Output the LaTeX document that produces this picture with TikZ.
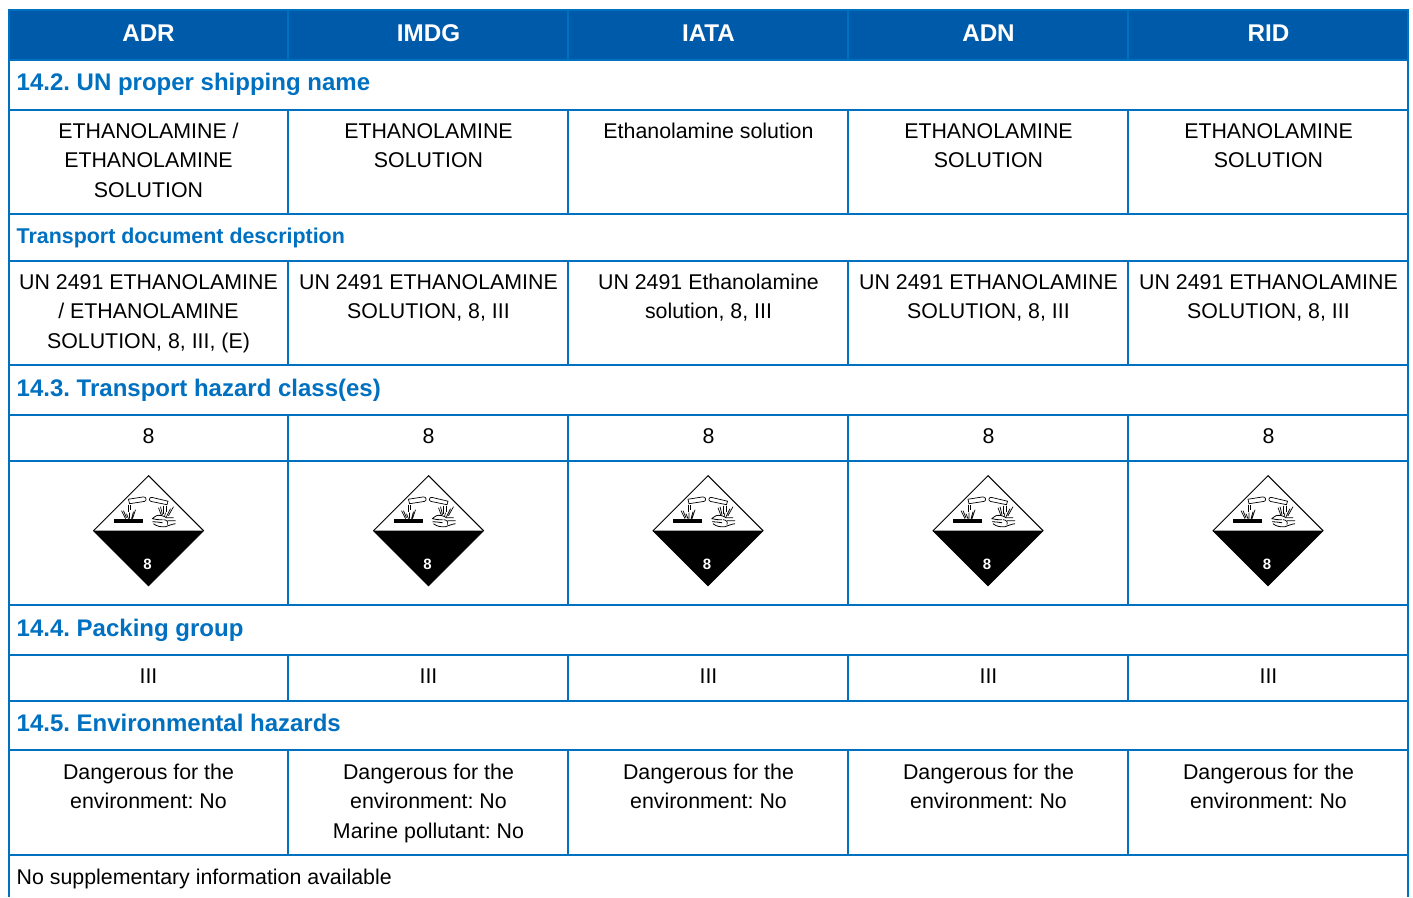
\documentclass[tikz,border=0pt]{standalone}
\usepackage{fontspec}
\setmainfont{Liberation Sans}
\frenchspacing
\definecolor{rulec}{RGB}{0,112,192}
\definecolor{headc}{RGB}{0,90,170}
\tikzset{
  x=1pt,y=-1pt,
  rulel/.style={draw=rulec,line width=2pt},
  headtxt/.style={text=white,font=\fontsize{24.2}{28}\selectfont\bfseries,inner sep=0pt,anchor=base},
  sect/.style={text=rulec,font=\fontsize{24}{28}\selectfont\bfseries,inner sep=0pt,anchor=base west},
  subsect/.style={text=rulec,font=\fontsize{21.4}{28}\selectfont\bfseries,inner sep=0pt,anchor=base west},
  body/.style={text=black,font=\fontsize{21.35}{29.6}\selectfont,inner sep=0pt,anchor=north,align=center},
  bodyl/.style={text=black,font=\fontsize{21.35}{29.6}\selectfont,inner sep=0pt,anchor=base west},
  hazard/.pic={
    \fill[white] (0,-55) -- (55,0) -- (0,55) -- (-55,0) -- cycle;
    \fill[black] (-55,0) -- (55,0) -- (0,55) -- cycle;
    \draw[black,line width=1pt,line join=miter] (0,-55) -- (55,0) -- (0,55) -- (-55,0) -- cycle;
    \fill[black] (-35,-11.7) rectangle (-6,-7.5);
    \draw[black,line width=.7pt] (-20,-31.5) -- (-5,-33.8) .. controls (-2,-34) and (-1.5,-29.8) .. (-4,-29.3) -- (-19,-27) -- cycle;
    \draw[black,line width=.6pt] (-20,-26) -- (-20,-19) (-18,-26) -- (-18,-21);
    \draw[black,line width=.7pt] (-27,-20) -- (-23,-12) (-25,-20) -- (-22,-13) (-19,-18) -- (-19,-12) (-13,-21) -- (-16,-12) (-15,-19) -- (-17,-12) (-22,-17) -- (-20,-12);
    \draw[black,line width=.7pt] (19.5,-29.5) -- (3.5,-33.3) .. controls (.5,-33.8) and (0,-29.8) .. (2.5,-29.3) -- (18.5,-26) -- cycle;
    \draw[black,line width=.6pt] (15,-25) -- (15,-17) (18,-25) -- (18,-19);
    \draw[black,line width=.7pt] (10,-23) -- (13,-15) (12,-24) -- (14,-16) (17,-18) -- (16,-14) (25,-24) -- (20,-15) (22,-22) -- (18,-14);
    \draw[black,line width=.8pt] (8,-15) .. controls (11,-16) and (15,-15) .. (18,-13) -- (25,-13)
      (8,-15) .. controls (6,-14) and (5,-13) .. (4,-12) .. controls (7,-11) and (10,-11) .. (14,-11)
      (4,-9) .. controls (7,-9) and (10,-8.5) .. (14,-8)
      (5,-7) .. controls (8,-4.5) and (12,-3.5) .. (17,-4) .. controls (20,-5) and (23,-6.5) .. (27,-7);
    \draw[black,line width=.7pt] (19,-10) -- (27,-10) (15,-11) .. controls (18,-11) and (20,-9) .. (19,-6);
    \node[text=white,inner sep=0pt,anchor=base,font=\fontsize{15}{18}\selectfont\bfseries] at (-1,39) {8};
  }
}
\newcommand{\rowhead}[3]{% name, baseline, text
  \node[sect] (#1) at (16.5,#2) {#3};}
\begin{document}
\begin{tikzpicture}
\useasboundingbox (0,0) rectangle (1413,897);
\fill[white] (0,0) rectangle (1413,897);
% header band
\fill[headc] (9,9) rectangle (1408,60);
% grid
\foreach \yy in {60,110,214,261,365,415,461,605,655,701,750,855}
  \draw[rulel] (8,\yy) -- (1409,\yy);
\draw[rulel] (8,10) -- (1409,10);
\draw[rulel] (9,9) -- (9,897);
\draw[rulel] (1408,9) -- (1408,897);
\foreach \xx in {288,568,848,1128}{
  \draw[rulel] (\xx,9) -- (\xx,60);
  \draw[rulel] (\xx,110) -- (\xx,214);
  \draw[rulel] (\xx,261) -- (\xx,365);
  \draw[rulel] (\xx,415) -- (\xx,605);
  \draw[rulel] (\xx,655) -- (\xx,701);
  \draw[rulel] (\xx,750) -- (\xx,855);
}
% header
\node[headtxt] (hadr) at (148.5,41) {ADR};
\node[headtxt] (himdg) at (428.5,41) {IMDG};
\node[headtxt] (hiata) at (708.5,41) {IATA};
\node[headtxt] (hadn) at (988.5,41) {ADN};
\node[headtxt] (hrid) at (1268.5,41) {RID};
% 14.2
\rowhead{s142}{90.5}{14.2. UN proper shipping name}
\node[body] (a1) at (148.5,117.3) {\strut ETHANOLAMINE /\\ETHANOLAMINE\\SOLUTION};
\node[body] (a2) at (428.5,117.3) {\strut ETHANOLAMINE\\SOLUTION};
\node[body] (a3) at (708.5,117.3) {\strut Ethanolamine solution};
\node[body] (a4) at (988.5,117.3) {\strut ETHANOLAMINE\\SOLUTION};
\node[body] (a5) at (1268.5,117.3) {\strut ETHANOLAMINE\\SOLUTION};
% transport doc
\node[subsect] (std) at (16.5,243) {Transport document description};
\node[body] (b1) at (148.5,268.3) {\strut UN 2491 ETHANOLAMINE\\/ ETHANOLAMINE\\SOLUTION, 8, III, (E)};
\node[body] (b2) at (428.5,268.3) {\strut UN 2491 ETHANOLAMINE\\SOLUTION, 8, III};
\node[body] (b3) at (708.5,268.3) {\strut UN 2491 Ethanolamine\\solution, 8, III};
\node[body] (b4) at (988.5,268.3) {\strut UN 2491 ETHANOLAMINE\\SOLUTION, 8, III};
\node[body] (b5) at (1268.5,268.3) {\strut UN 2491 ETHANOLAMINE\\SOLUTION, 8, III};
% 14.3
\rowhead{s143}{396}{14.3. Transport hazard class(es)}
\node[body] (c1) at (148.5,422.3) {\strut 8};
\node[body] (c2) at (428.5,422.3) {\strut 8};
\node[body] (c3) at (708.5,422.3) {\strut 8};
\node[body] (c4) at (988.5,422.3) {\strut 8};
\node[body] (c5) at (1268.5,422.3) {\strut 8};
\pic at (148.5,530.7) {hazard};
\pic at (428.5,530.7) {hazard};
\pic at (708,530.7) {hazard};
\pic at (988,530.7) {hazard};
\pic at (1268,530.7) {hazard};
% 14.4
\rowhead{s144}{636}{14.4. Packing group}
\node[body] (d1) at (148.5,662.3) {\strut III};
\node[body] (d2) at (428.5,662.3) {\strut III};
\node[body] (d3) at (708.5,662.3) {\strut III};
\node[body] (d4) at (988.5,662.3) {\strut III};
\node[body] (d5) at (1268.5,662.3) {\strut III};
% 14.5
\rowhead{s145}{731}{14.5. Environmental hazards}
\node[body] (e1) at (148.5,758.3) {\strut Dangerous for the\\environment: No};
\node[body] (e2) at (428.5,758.3) {\strut Dangerous for the\\environment: No\\Marine pollutant: No};
\node[body] (e3) at (708.5,758.3) {\strut Dangerous for the\\environment: No};
\node[body] (e4) at (988.5,758.3) {\strut Dangerous for the\\environment: No};
\node[body] (e5) at (1268.5,758.3) {\strut Dangerous for the\\environment: No};
\node[bodyl] (f) at (16.5,884) {No supplementary information available};
\end{tikzpicture}
\end{document}
